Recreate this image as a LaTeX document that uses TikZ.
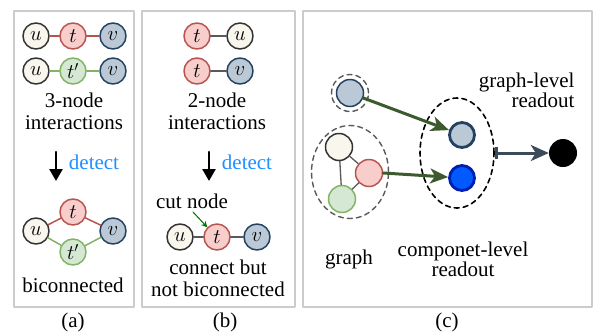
\documentclass[tikz,border=0pt]{standalone}
\usepackage{fontspec}
\setmainfont{Liberation Serif}
\usetikzlibrary{arrows,arrows.meta,shapes.geometric}
\definecolor{redfill}{rgb}{0.973,0.808,0.800}
\definecolor{redline}{rgb}{0.722,0.329,0.314}
\definecolor{grnfill}{rgb}{0.835,0.910,0.831}
\definecolor{grnline}{rgb}{0.510,0.702,0.400}
\definecolor{bluefill}{rgb}{0.733,0.784,0.835}
\definecolor{blueline}{rgb}{0.137,0.259,0.380}
\definecolor{whtfill}{rgb}{0.976,0.969,0.929}
\definecolor{whtline}{rgb}{0.2,0.2,0.2}
\definecolor{deepblue}{rgb}{0.0,0.353,1.0}
\definecolor{deepblueline}{rgb}{0.0,0.118,0.690}
\definecolor{arrowgrn}{rgb}{0.239,0.353,0.180}
\definecolor{slate}{rgb}{0.235,0.294,0.353}
\definecolor{panelgray}{rgb}{0.80,0.80,0.80}
\definecolor{detectblue}{rgb}{0.118,0.565,1.0}
\definecolor{cutgrn}{rgb}{0.0,0.45,0.0}

\tikzset{
  vert/.style={circle,draw,line width=1.5pt,minimum size=26pt,inner sep=0pt,
    font=\fontsize{22}{22}\selectfont},
  uvert/.style={vert,fill=whtfill,draw=whtline},
  tvert/.style={vert,fill=redfill,draw=redline},
  tpvert/.style={vert,fill=grnfill,draw=grnline},
  vvert/.style={vert,fill=bluefill,draw=blueline},
  panelbox/.style={draw=panelgray,line width=1.6pt},
  txt/.style={align=center,font=\fontsize{21}{22}\selectfont},
  redge/.style={draw=redline,line width=1.5pt},
  gedge/.style={draw=grnline,line width=1.5pt},
  kedge/.style={draw=black!65,line width=1.5pt},
  ringdash/.style={dash pattern=on 5pt off 4pt},
  detectarrow/.style={-{Triangle[length=12pt,width=13pt]},line width=2.6pt},
  readarrow/.style={-{Stealth[length=18pt,width=15pt,inset=5pt]},draw=arrowgrn,fill=arrowgrn,line width=3pt}
}

\begin{document}
\begin{tikzpicture}[line cap=round,line join=round,x=1pt,y=-1pt]
\useasboundingbox (0,0) rectangle (593,335);
\draw[panelbox] (14,11) rectangle (134,307);
\draw[panelbox] (142,11) rectangle (295,307);
\draw[panelbox] (303,11) rectangle (592,307);

% (a)
\node[uvert] (au1) at (36,36) {$u$};
\node[tvert] (at1) at (73,36) {$t$};
\node[vvert] (av1) at (113,36) {$v$};
\node[uvert] (au2) at (36,71) {$u$};
\node[tpvert] (atp2) at (73,71) {$t'$};
\node[vvert] (av2) at (113,71) {$v$};
\draw[redge] (au1) -- (at1) -- (av1);
\draw[gedge] (au2) -- (atp2) -- (av2);
\node[txt] (atext) at (74,111) {3-node\\interactions};
\coordinate (aarr1) at (56,152);
\coordinate (aarr2) at (56,181);
\draw[detectarrow] (aarr1) -- (aarr2);
\node[txt,text=detectblue] (adet) at (94,162) {detect};
\node[uvert] (au) at (36,231) {$u$};
\node[tvert] (at) at (73,212) {$t$};
\node[vvert] (av) at (113,231) {$v$};
\node[tpvert] (atp) at (73,252) {$t'$};
\draw[redge] (au) -- (at) -- (av);
\draw[gedge] (au) -- (atp) -- (av);
\node[txt] (abic) at (73,285) {biconnected};
\node[txt] (alab) at (73,322) {(a)};

% (b)
\node[tvert] (bt1) at (197,36) {$t$};
\node[uvert] (bu1) at (240,36) {$u$};
\node[tvert] (bt2) at (197,71) {$t$};
\node[vvert] (bv2) at (240,71) {$v$};
\draw[kedge] (bt1) -- (bu1);
\draw[kedge] (bt2) -- (bv2);
\node[txt] (btext) at (217,111) {2-node\\interactions};
\coordinate (barr1) at (209,152);
\coordinate (barr2) at (209,181);
\draw[detectarrow] (barr1) -- (barr2);
\node[txt,text=detectblue] (bdet) at (247,162) {detect};
\node[txt] (bcut) at (192,201) {cut node};
\node[uvert] (bu) at (180,237) {$u$};
\node[tvert] (bt) at (217,237) {$t$};
\node[vvert] (bv) at (257,237) {$v$};
\draw[kedge] (bu) -- (bt) -- (bv);
\coordinate (bcutarr) at (193,212);
\draw[-{Stealth[length=6pt,width=6pt]},draw=cutgrn,fill=cutgrn,line width=1pt] (bcutarr) -- (bt.north west);
\node[txt] (bconn) at (218,278) {connect but\\not biconnected};
\node[txt] (blab) at (225,322) {(b)};

% (c)
\node[vvert,minimum size=27pt] (cs) at (350,93) {};
\node[circle,draw=black!65,ringdash,line width=1.4pt,minimum size=37pt] (csring) at (350,93) {};
\node[ellipse,draw=black!65,ringdash,line width=1.4pt,minimum width=77pt,minimum height=93pt] (cgraph) at (350,172) {};
\node[uvert,minimum size=27pt] (cg1) at (339,147) {};
\node[tvert,minimum size=27pt] (cg2) at (369,173) {};
\node[tpvert,minimum size=27pt] (cg3) at (342,199) {};
\draw[kedge,line width=1.3pt] (cg1) -- (cg2) -- (cg3) -- (cg1);
\node[ellipse,draw=black,ringdash,line width=1.6pt,minimum width=74pt,minimum height=110pt] (ccomp) at (457,153) {};
\node[vert,fill=bluefill,draw=blueline,line width=2.8pt,minimum size=25pt] (cc1) at (462,135) {};
\node[vert,fill=deepblue,draw=deepblueline,line width=2.8pt,minimum size=25pt] (cc2) at (462,178) {};
\node[circle,fill=black,minimum size=28pt,inner sep=0pt] (cout) at (563,153) {};
\draw[readarrow] (cs) -- (cc1);
\draw[readarrow] (cg2.east) -- (cc2);
\draw[{Bar[width=12pt]}-{Stealth[length=18pt,width=16pt,inset=5pt]},draw=slate,fill=slate,line width=3pt] (ccomp.east) -- (cout);
\node[txt,align=right,anchor=east,font=\fontsize{21}{20}\selectfont] (cglab) at (578,90) {graph-level\\readout};
\node[txt] (cgraphlab) at (349,259) {graph};
\node[txt,font=\fontsize{21}{18.5}\selectfont] (ccomplab) at (463,259) {componet-level\\readout};
\node[txt] (clab) at (447,322) {(c)};
\end{tikzpicture}
\end{document}
